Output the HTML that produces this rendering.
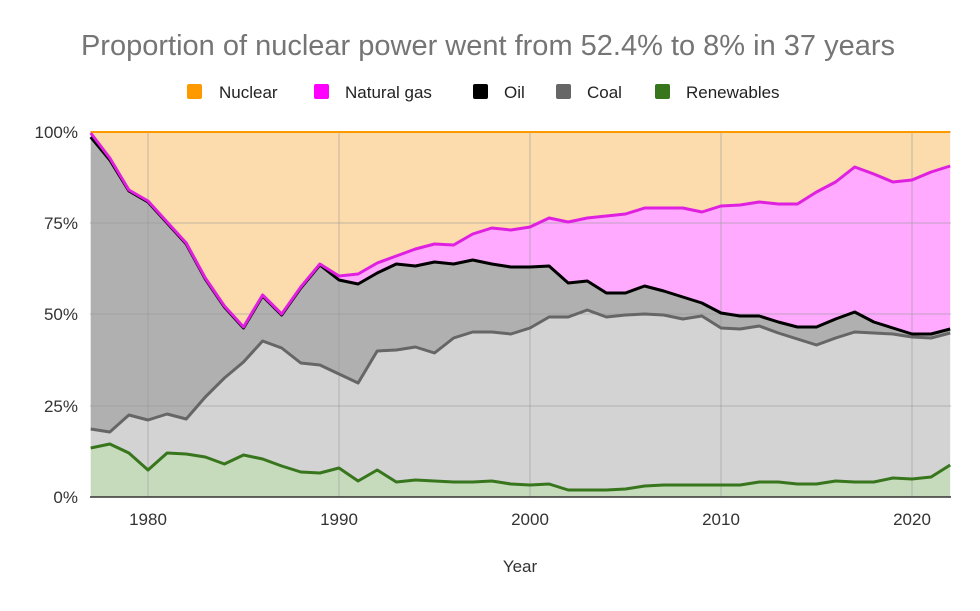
<!DOCTYPE html>
<html><head><meta charset="utf-8"><style>
body{margin:0;background:#fff;width:980px;height:606px;overflow:hidden;font-family:"Liberation Sans",Arial,sans-serif}
</style></head><body>
<svg id="s" width="980" height="606" xmlns="http://www.w3.org/2000/svg" font-family="Liberation Sans, Arial, sans-serif">
<text x="488" y="55" text-anchor="middle" font-size="29" fill="#757575">Proportion of nuclear power went from 52.4% to 8% in 37 years</text>
<g font-size="17" fill="#222">
<rect x="187" y="84" width="15" height="15" rx="2" fill="#ff9900"/><text x="219" y="98">Nuclear</text>
<rect x="314" y="84" width="15" height="15" rx="2" fill="#ff00ff"/><text x="345" y="98">Natural gas</text>
<rect x="473" y="84" width="15" height="15" rx="2" fill="#000"/><text x="504" y="98">Oil</text>
<rect x="556" y="84" width="15" height="15" rx="2" fill="#666"/><text x="587" y="98">Coal</text>
<rect x="655" y="84" width="15" height="15" rx="2" fill="#38761d"/><text x="686" y="98">Renewables</text>
</g>
<g id="areas"></g>
<g id="grid" stroke="#999" stroke-opacity="0.6" stroke-width="1"></g>
<g id="lines" fill="none" stroke-width="3" stroke-linejoin="round"></g>
<line x1="90" y1="497" x2="951" y2="497" stroke="#333" stroke-width="1.5"/>
<g font-size="17" fill="#333" text-anchor="end">
<text x="78" y="138">100%</text><text x="78" y="229">75%</text><text x="78" y="320">50%</text><text x="78" y="412">25%</text><text x="78" y="503">0%</text>
</g>
<g font-size="17" fill="#333" text-anchor="middle">
<text x="148" y="525">1980</text><text x="339" y="525">1990</text><text x="530" y="525">2000</text><text x="721" y="525">2010</text><text x="912" y="525">2020</text>
<text x="520" y="572">Year</text>
</g>
</svg>
<script>
(function(){
var ren=[448,444,453,470,453,454,457,464,455,459,466,472,473,468,481,470,482,480,481,482,482,481,484,485,484,490,490,490,489,486,485,485,485,485,485,482,482,484,484,481,482,482,478,479,477,465];
var coal=[429,432,415,420,414,419,397,378,362,341,348,363,365,374,383,351,350,347,353,338,332,332,334,328,317,317,310,317,315,314,315,319,316,328,329,326,333,339,345,338,332,333,334,337,338,333];
var gas=[133,158,190,201,222,243,278,306,327,295,314,287,264,276,274,263,256,249,244,245,234,228,230,227,218,222,218,216,214,208,208,208,212,206,205,202,204,204,192,182,167,174,182,180,172,166];
var oil=[137,160,191,202,223,244,279,307,328,296,315,288,265,280,284,273,264,266,262,264,260,264,267,267,266,283,281,293,293,286,291,297,303,313,316,316,322,327,327,319,312,322,328,334,334,329];
function X(i){return 90.7+19.1*i;}
function pts(a){return a.map(function(v,i){return X(i).toFixed(1)+','+v;}).join(' ');}
function area(t,bot,fill){
 var p=t.map(function(v,i){return X(i).toFixed(1)+','+v;});
 var b=[];for(var i=bot.length-1;i>=0;i--)b.push(X(i).toFixed(1)+','+bot[i]);
 return '<polygon points="'+p.concat(b).join(' ')+'" fill="'+fill+'"/>';}
var n=46,topLine=[],zero=[];for(var i=0;i<n;i++){topLine.push(132);zero.push(497);}
var ns='http://www.w3.org/2000/svg';
function put(id,html){
 var g=document.getElementById(id);
 var tmp=new DOMParser().parseFromString('<svg xmlns="'+ns+'">'+html+'</svg>','image/svg+xml').documentElement;
 while(tmp.firstChild){g.appendChild(document.importNode(tmp.firstChild,true));tmp.removeChild(tmp.firstChild);}
}
put('areas',area(topLine,gas,'#fcdcac')+area(gas,oil,'#ffaaff')+area(oil,coal,'#b0b0b0')+area(coal,ren,'#d3d3d3')+area(ren,zero,'#c6dbbc'));
var g='';[132,223,314,406].forEach(function(y){g+='<line x1="90" x2="951" y1="'+y+'" y2="'+y+'"/>';});
[148,339,530,721,912].forEach(function(x){g+='<line y1="132" y2="497" x1="'+x+'" x2="'+x+'"/>';});
put('grid',g);
put('lines',
 '<polyline points="'+pts(topLine)+'" stroke="#ff9900" stroke-width="2"/>'+
 '<polyline points="'+pts(ren)+'" stroke="#38761d"/>'+
 '<polyline points="'+pts(coal)+'" stroke="#666"/>'+
 '<polyline points="'+pts(oil)+'" stroke="#000"/>'+
 '<polyline points="'+pts(gas)+'" stroke="#e020e0"/>');
})();
</script>
</body></html>
